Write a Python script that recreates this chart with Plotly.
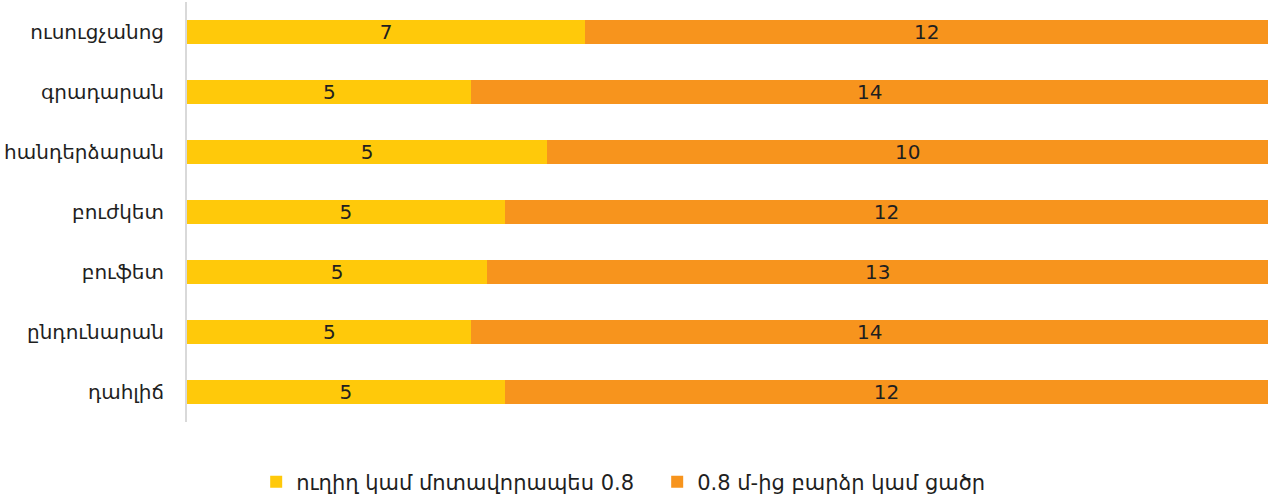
import plotly.graph_objects as go

categories = ["ուսուցչանոց", "գրադարան", "հանդերձարան", "բուժկետ", "բուֆետ", "ընդունարան", "դահլիճ"]
near_08 = [7, 5, 5, 5, 5, 5, 5]
off_08 = [12, 14, 10, 12, 13, 14, 12]
series_names = ["ուղիղ կամ մոտավորապես 0.8", "0.8 մ-ից բարձր կամ ցածր"]
colors = ["#FFC90A", "#F7941D"]

FONT = "DejaVu Sans"
INK = "#1f1f1f"

fig = go.Figure()
for name, vals, col in zip(series_names, [near_08, off_08], colors):
    fig.add_trace(go.Bar(
        y=categories, x=vals, name=name, orientation="h",
        marker=dict(color=col, line=dict(width=0)),
        text=[str(v) for v in vals], textposition="inside",
        insidetextanchor="middle", textangle=0,
        textfont=dict(family=FONT, size=20, color=INK),
        constraintext="none",
    ))

fig.update_layout(
    barmode="stack", barnorm="percent", bargap=0.6,
    width=1272, height=499,
    margin=dict(l=187, r=4, t=2, b=77),
    plot_bgcolor="white", paper_bgcolor="white",
    font=dict(family=FONT, size=20, color=INK),
    legend=dict(orientation="h", x=0.064, xanchor="left",
                yref="container", y=0.034, yanchor="middle",
                font=dict(family=FONT, size=21, color=INK),
                itemwidth=30, entrywidth=356, entrywidthmode="pixels",
                traceorder="normal"),
    xaxis=dict(range=[0, 100], showticklabels=False, showgrid=False, zeroline=False, showline=False),
    yaxis=dict(autorange="reversed", showgrid=False, zeroline=False, showline=True,
               linecolor="#d9d9d9", linewidth=2, ticks="", ticklabelstandoff=17,
               tickfont=dict(family=FONT, size=20, color=INK)),
)

fig.write_html("out.html")
